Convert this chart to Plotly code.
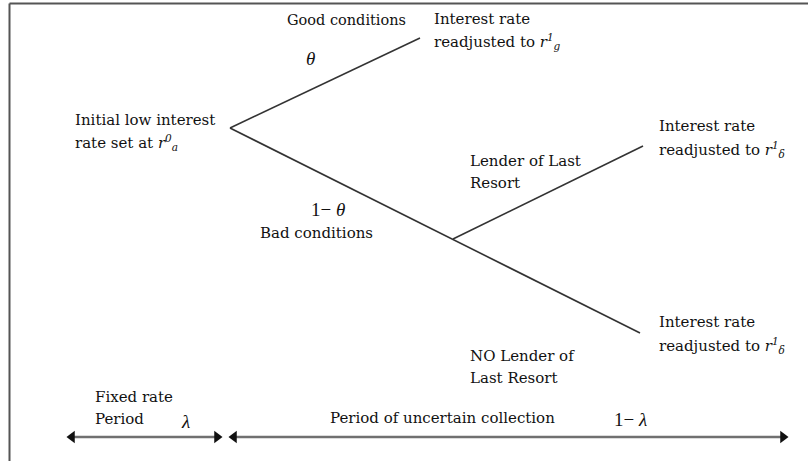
import plotly.graph_objects as go

# Tree nodes (diagram coordinates: x to the right, y downward)
nodes = {
    "root": (230, 128),
    "good": (420, 38),
    "mid": (453, 239),
    "llr": (643, 146),
    "nollr": (640, 333),
}
edges = [("root", "good"), ("root", "nollr"), ("mid", "llr")]

# Text labels: (x, y, text, size, anchor)
labels = [
    (346, 20, "Good conditions", 14.5, "center"),
    (432, 19, "Interest rate", 15, "left"),
    (432, 41, "readjusted to <i>r</i><sup><i>1</i></sup><sub><i>g</i></sub>", 15, "left"),
    (73, 120, "Initial low interest", 15, "left"),
    (73, 142, "rate set at <i>r</i><sup><i>0</i></sup><sub><i>a</i></sub>", 15, "left"),
    (657, 126, "Interest rate", 15, "left"),
    (657, 149, "readjusted to <i>r</i><sup><i>1</i></sup><sub><i>δ</i></sub>", 15, "left"),
    (468, 161, "Lender of Last", 15, "left"),
    (468, 183, "Resort", 15, "left"),
    (375, 233, "Bad conditions", 15, "right"),
    (468, 356, "NO Lender of", 15, "left"),
    (468, 378, "Last Resort", 15, "left"),
    (657, 322, "Interest rate", 15, "left"),
    (657, 345, "readjusted to <i>r</i><sup><i>1</i></sup><sub><i>δ</i></sub>", 15, "left"),
    (93, 397, "Fixed rate", 15, "left"),
    (93, 419, "Period", 15, "left"),
    (328, 418, "Period of uncertain collection", 15, "left"),
]
symbols = [
    (310, 58, "<i>θ</i>", 19, "center"),
    (328, 209, "1− <i>θ</i>", 19, "center"),
    (185, 421, "<i>λ</i>", 19, "center"),
    (630, 419, "1− <i>λ</i>", 19, "center"),
]

# Period arrows: (x_start, x_end, y)
periods = [(67, 222, 437), (229, 788, 437)]

fig = go.Figure()

for a, b in edges:
    (x0, y0), (x1, y1) = nodes[a], nodes[b]
    fig.add_trace(go.Scatter(x=[x0, x1], y=[y0, y1], mode="lines",
                             line=dict(color="#333333", width=1.6),
                             hoverinfo="skip", showlegend=False))

for xs, xe, y in periods:
    fig.add_trace(go.Scatter(x=[xs + 5, xe - 5], y=[y, y], mode="lines",
                             line=dict(color="#707070", width=2.5),
                             hoverinfo="skip", showlegend=False))
    fig.add_trace(go.Scatter(x=[xs + 5, xe - 5], y=[y, y], mode="markers",
                             marker=dict(symbol=["triangle-left", "triangle-right"],
                                         size=11, color="#111111"),
                             hoverinfo="skip", showlegend=False))

FONT = "DejaVu Serif, serif"
GREEK = "Liberation Serif, Times New Roman, serif"
for x, y, t, s, anc in labels:
    fig.add_annotation(x=x, y=y, text=t, showarrow=False, xanchor=anc,
                       yanchor="middle", font=dict(family=FONT, size=s, color="#111111"))
for x, y, t, s, anc in symbols:
    fig.add_annotation(x=x, y=y, text=t, showarrow=False, xanchor=anc,
                       yanchor="middle", font=dict(family=GREEK, size=s, color="#111111"))

# Frame lines (top and left)
fig.add_shape(type="line", x0=9.5, x1=808, y0=3.5, y1=3.5,
              line=dict(color="#555555", width=2))
fig.add_shape(type="line", x0=9.5, x1=9.5, y0=3.5, y1=461,
              line=dict(color="#555555", width=2))

fig.update_layout(
    width=808, height=461, margin=dict(l=0, r=0, t=0, b=0),
    paper_bgcolor="white", plot_bgcolor="white",
    xaxis=dict(range=[0, 808], visible=False, fixedrange=True),
    yaxis=dict(range=[461, 0], visible=False, fixedrange=True),
)

fig.write_html("out.html", config={"displayModeBar": False},
               post_script="document.body.style.margin='0px';document.body.style.overflow='hidden';")
